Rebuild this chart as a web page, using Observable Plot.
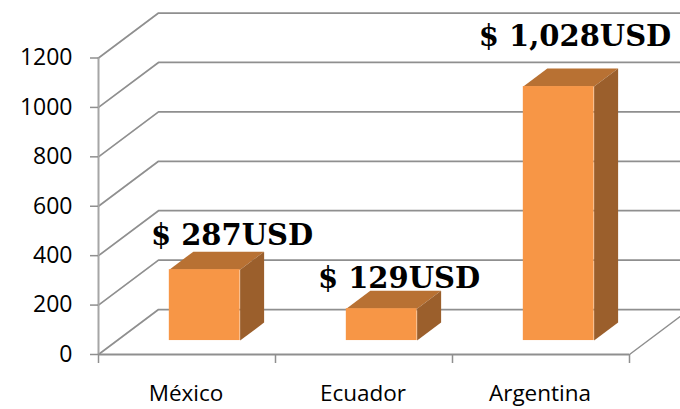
<!DOCTYPE html>
<html>
<head>
<meta charset="utf-8">
<style>html,body{margin:0;padding:0;background:#fff;overflow:hidden}</style>
<script src="https://cdn.jsdelivr.net/npm/d3@7"></script>
<script src="https://cdn.jsdelivr.net/npm/@observablehq/plot@0.6"></script>
</head>
<body>
<div id="chart"></div>
<script>
const categories = ["México", "Ecuador", "Argentina"];
const values = [287, 129, 1028];
const valueLabels = ["$ 287USD", "$ 129USD", "$ 1,028USD"];
const yTicks = [0, 200, 400, 600, 800, 1000, 1200];
const xTicks = [0, 1, 2, 3];

// Oblique projection of the 3D chart, in scale units
const wallX = 0.339, wallY = 182;
const project = (c, v, depth) => ({x: c + depth * wallX, y: v + depth * wallY});
const barStart = 0.295, barEnd = 0.695, barFront = 0.31, barBack = 0.71;

const gridLines = yTicks.flatMap((v) => [
  {v, ...project(0, v, 0)},
  {v, ...project(0, v, 1)},
  {v, ...project(3, v, 1)}
]);
const floorEdge = [project(3, 0, 0), project(3, 0, 1)];

const fronts = values.map((v, i) => ({
  x1: project(i + barStart, 0, barFront).x,
  x2: project(i + barEnd, 0, barFront).x,
  y1: project(0, 0, barFront).y,
  y2: project(0, v, barFront).y
}));
const tops = values.flatMap((v, i) => [
  project(i + barStart, v, barFront),
  project(i + barEnd, v, barFront),
  project(i + barEnd, v, barBack),
  project(i + barStart, v, barBack)
].map((p) => ({i, ...p})));
const sides = values.flatMap((v, i) => [
  project(i + barEnd, 0, barFront),
  project(i + barEnd, v, barFront),
  project(i + barEnd, v, barBack),
  project(i + barEnd, 0, barBack)
].map((p) => ({i, ...p})));

const labelOffsets = [[45, -48], [35, -44], [34, -64]];
const gray = "#8f8f8f";

const plot = Plot.plot({
  width: 680,
  height: 409,
  marginLeft: 98,
  marginRight: 51,
  marginTop: 57.5,
  marginBottom: 55,
  x: {domain: [0, 3]},
  y: {domain: [0, 1200]},
  marks: [
    Plot.line(gridLines, {x: "x", y: "y", z: "v", stroke: gray, strokeWidth: 1.7}),
    Plot.line(floorEdge, {x: "x", y: "y", stroke: gray, strokeWidth: 1.5}),
    Plot.ruleX([0], {y1: 0, y2: 1200, stroke: "#a6a6a6", strokeWidth: 2}),
    Plot.ruleY([0], {x1: 0, x2: 3, stroke: gray, strokeWidth: 2}),
    Plot.axisY({ticks: yTicks, tickFormat: "d", tickSize: 8, tickPadding: 18, stroke: gray, fill: "#000",
      fontSize: 23, fontFamily: "Open Sans", label: null, strokeWidth: 1.5}),
    Plot.axisX({ticks: xTicks, tickFormat: () => "", tickSize: 9, stroke: gray, label: null, strokeWidth: 1.5}),
    Plot.text(categories, {x: (d, i) => i + 0.5, y: () => 0, text: (d) => d, dx: -1, dy: 39,
      fontSize: 22.5, fontFamily: "Open Sans", fill: "#000"}),
    Plot.line(tops, {x: "x", y: "y", z: "i", fill: "#b87133", stroke: "none"}),
    Plot.line(sides, {x: "x", y: "y", z: "i", fill: "#9b5f2c", stroke: "none"}),
    Plot.rect(fronts, {x1: "x1", x2: "x2", y1: "y1", y2: "y2", fill: "#f79646"}),
    ...values.map((v, i) => Plot.text([valueLabels[i]], {
      x: () => i + 0.5, y: () => v, text: (d) => d,
      dx: labelOffsets[i][0], dy: labelOffsets[i][1],
      fontSize: 29, fontWeight: "bold", fontFamily: "DejaVu Serif", fill: "#000"
    }))
  ]
});
document.getElementById("chart").appendChild(plot);
</script>
</body>
</html>
